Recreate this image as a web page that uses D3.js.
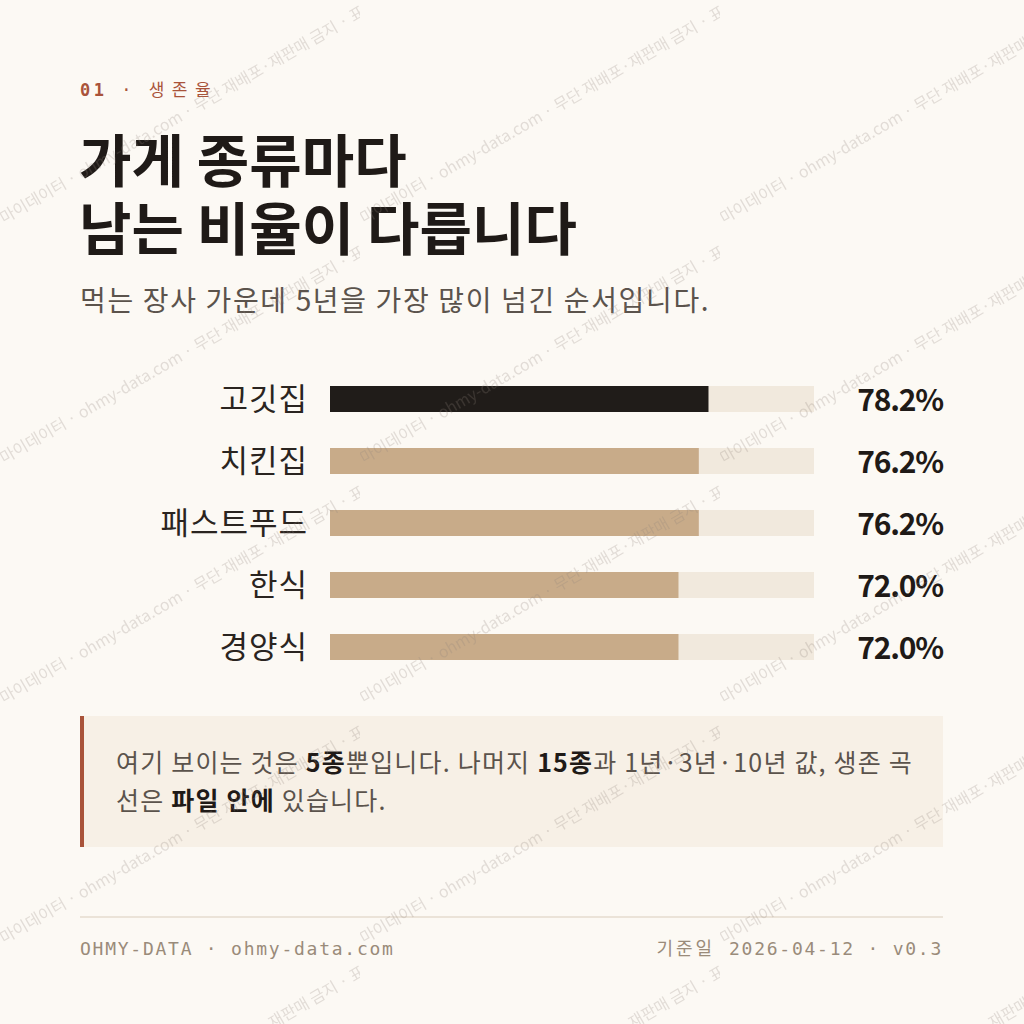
<!DOCTYPE html>
<html>
<head>
<meta charset="utf-8">
<script src="https://cdn.jsdelivr.net/npm/d3@7"></script>
<style>
  html, body { margin: 0; padding: 0; background: #fcf9f4; }
  svg { display: block; }
</style>
</head>
<body>
<svg id="chart" width="1024" height="1024"></svg>
<script>
// data
var categories = ["고깃집", "치킨집", "패스트푸드", "한식", "경양식"];
var survival5y = [78.2, 76.2, 76.2, 72.0, 72.0];
var highlight = ["고깃집"];

var kicker = ["01", "·", "생존율"];
var titleLines = ["가게 종류마다", "남는 비율이 다릅니다"];
var subtitle = "먹는 장사 가운데 5년을 가장 많이 넘긴 순서입니다.";
// note runs: [text, bold]
var noteLines = [
    [["여기 보이는 것은 ", false], ["5종", true], ["뿐입니다. 나머지 ", false], ["15종", true], ["과 1년·3년·10년 값, 생존 곡", false]],
    [["선은 ", false], ["파일 안에", true], [" 있습니다.", false]]
];
var footerLeft = "OHMY-DATA · ohmy-data.com";
var footerRight = ["기준일", "2026-04-12 · v0.3"];
var watermark = "마이데이터 · ohmy-data.com · 무단 재배포·재판매 금지 · 표본";

var SANS = "'Noto Sans CJK KR', 'Noto Sans', sans-serif";
var MONO = "'DejaVu Sans Mono', 'Noto Sans CJK KR', monospace";

var svg = d3.select("#chart");

svg.append("rect")
    .attr("width", 1024)
    .attr("height", 1024)
    .attr("fill", "#fcf9f4");

// kicker
var k = svg.append("text")
    .attr("x", 80)
    .attr("y", 96)
    .attr("font-family", MONO)
    .attr("font-size", 17)
    .attr("letter-spacing", 3.5)
    .attr("fill", "#a9533a");
k.append("tspan").attr("font-weight", 700).text(kicker[0]);
k.append("tspan").text(" " + kicker[1] + " ");
k.append("tspan").attr("letter-spacing", 7.5).text(kicker[2]);

// title
svg.append("g")
    .selectAll("text")
    .data(titleLines)
    .join("text")
    .attr("x", 79)
    .attr("y", (d, i) => 182 + i * 68)
    .attr("font-family", SANS)
    .attr("font-weight", 700)
    .attr("font-size", 57)
    .attr("fill", "#1f1a17")
    .text(d => d);

svg.append("text")
    .attr("x", 80)
    .attr("y", 311)
    .attr("font-family", SANS)
    .attr("font-size", 28)
    .attr("letter-spacing", 1.65)
    .attr("fill", "#5b534c")
    .text(subtitle);

// bars
var x = d3.scaleLinear().domain([0, 100]).range([330, 814]);
var y = d3.scalePoint().domain(categories).range([399, 647]);
var barH = 26;

var rows = svg.append("g")
    .selectAll("g")
    .data(categories.map((c, i) => ({ name: c, value: survival5y[i] })))
    .join("g")
    .attr("transform", d => "translate(0," + y(d.name) + ")");

rows.append("rect")
    .attr("x", x(0))
    .attr("y", -barH / 2)
    .attr("width", x(100) - x(0))
    .attr("height", barH)
    .attr("fill", "#f1e9dd");

rows.append("rect")
    .attr("x", x(0))
    .attr("y", -barH / 2)
    .attr("width", d => x(d.value) - x(0))
    .attr("height", barH)
    .attr("fill", d => highlight.includes(d.name) ? "#201c19" : "#c8ab89");

rows.append("text")
    .attr("x", 308)
    .attr("y", 0)
    .attr("dy", "0.35em")
    .attr("text-anchor", "end")
    .attr("font-family", SANS)
    .attr("font-size", 31)
    .attr("letter-spacing", 1)
    .attr("fill", "#2a2420")
    .text(d => d.name);

rows.append("text")
    .attr("x", 943)
    .attr("y", 0)
    .attr("dy", "0.4em")
    .attr("text-anchor", "end")
    .attr("font-family", SANS)
    .attr("font-weight", 700)
    .attr("font-size", 30)
    .attr("letter-spacing", -1.2)
    .attr("fill", "#1f1a17")
    .text(d => d.value.toFixed(1) + "%");

// note box
svg.append("rect")
    .attr("x", 80)
    .attr("y", 716)
    .attr("width", 863)
    .attr("height", 131)
    .attr("fill", "#f7f0e6");
svg.append("rect")
    .attr("x", 80)
    .attr("y", 716)
    .attr("width", 4)
    .attr("height", 131)
    .attr("fill", "#a9533a");

var note = svg.append("g")
    .selectAll("text")
    .data(noteLines)
    .join("text")
    .attr("x", 116)
    .attr("y", (d, i) => 772 + i * 38)
    .attr("font-family", SANS)
    .attr("font-size", 25)
    .attr("letter-spacing", 1.2)
    .attr("fill", "#5b534c");
note.selectAll("tspan")
    .data(d => d)
    .join("tspan")
    .attr("font-weight", d => d[1] ? 700 : 400)
    .attr("fill", d => d[1] ? "#1f1a17" : null)
    .text(d => d[0]);

// footer
svg.append("line")
    .attr("x1", 80)
    .attr("x2", 943)
    .attr("y1", 917)
    .attr("y2", 917)
    .attr("stroke", "#ebe3d8")
    .attr("stroke-width", 2);

svg.append("text")
    .attr("x", 80)
    .attr("y", 955)
    .attr("font-family", MONO)
    .attr("font-size", 18)
    .attr("letter-spacing", 1.75)
    .attr("fill", "#9a8b7a")
    .text(footerLeft);

var fr = svg.append("text")
    .attr("x", 943)
    .attr("y", 955)
    .attr("text-anchor", "end")
    .attr("font-family", MONO)
    .attr("font-size", 18)
    .attr("letter-spacing", 1.75)
    .attr("fill", "#9a8b7a");
fr.append("tspan").attr("letter-spacing", 3).text(footerRight[0] + " ");
fr.append("tspan").text(footerRight[1]);

// watermark tiles
var pat = svg.append("defs")
    .append("pattern")
    .attr("id", "wm")
    .attr("patternUnits", "userSpaceOnUse")
    .attr("width", 360)
    .attr("height", 240);
pat.append("text")
    .attr("x", 4)
    .attr("y", 224)
    .attr("transform", "rotate(-30, 4, 224)")
    .attr("font-family", SANS)
    .attr("font-size", 16)
    .attr("fill", "#8d837a")
    .attr("fill-opacity", 0.24)
    .text(watermark);

svg.append("rect")
    .attr("width", 1024)
    .attr("height", 1024)
    .attr("fill", "url(#wm)")
    .attr("pointer-events", "none");
</script>
</body>
</html>
